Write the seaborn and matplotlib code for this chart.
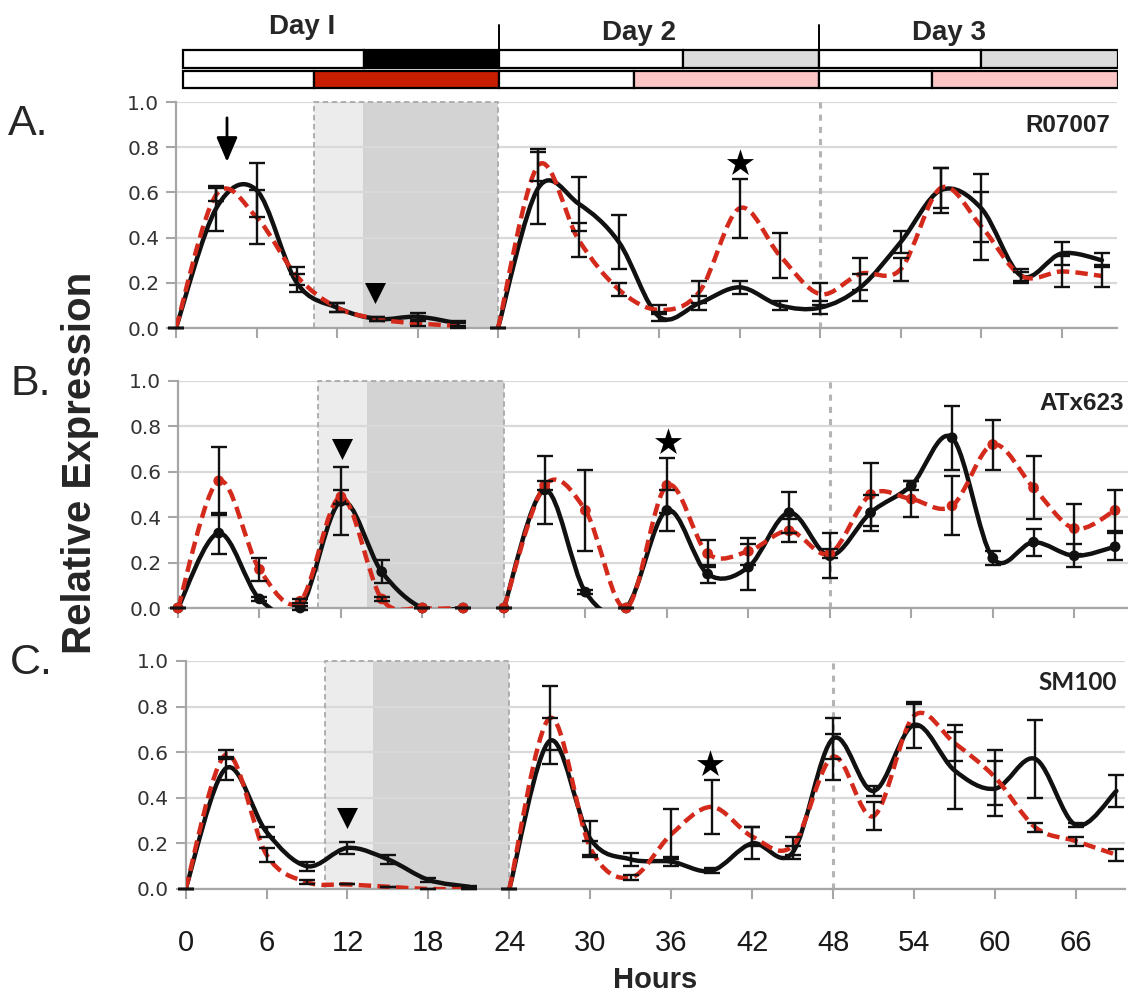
import numpy as np
import matplotlib
matplotlib.use("Agg")
import matplotlib.pyplot as plt
from matplotlib.path import Path
from matplotlib.patches import PathPatch, Rectangle
from matplotlib import font_manager
import seaborn as sns

# ---------------------------------------------------------------- data
hours = [0, 3, 6, 9, 12, 15, 18, 21,
         24, 27, 30, 33, 36, 39, 42, 45, 48, 51, 54, 57, 60, 63, 66, 69]
tick_hours = [0, 6, 12, 18, 24, 30, 36, 42, 48, 54, 60, 66]
y_ticks = [0.0, 0.2, 0.4, 0.6, 0.8, 1.0]

# R07007
r07007_black = [0, 0.53, 0.61, 0.20, 0.09, 0.04, 0.05, 0.02,
                0, 0.62, 0.55, 0.38, 0.05, 0.11, 0.18, 0.10, 0.09, 0.18, 0.38, 0.61, 0.53, 0.23, 0.33, 0.30]
r07007_black_err = [0, 0.10, 0.12, 0.04, 0.02, 0.01, 0.015, 0.01,
                    0, 0.16, 0.12, 0.12, 0.02, 0.03, 0.03, 0.02, 0.03, 0.06, 0.05, 0.10, 0.15, 0.03, 0.05, 0.03]
r07007_red = [0, 0.59, 0.49, 0.23, 0.09, 0.04, 0.02, 0.01,
              0, 0.72, 0.39, 0.17, 0.08, 0.16, 0.53, 0.32, 0.15, 0.24, 0.26, 0.62, 0.45, 0.23, 0.25, 0.23]
r07007_red_err = [0, 0.03, 0.12, 0.04, 0.02, 0.01, 0.01, 0.01,
                  0, 0.07, 0.075, 0.03, 0.02, 0.05, 0.13, 0.10, 0.05, 0.07, 0.05, 0.09, 0.15, 0.02, 0.07, 0.05]

# ATx623
atx623_black = [0, 0.33, 0.04, 0.0, 0.47, 0.16, 0.0, 0.0,
                0, 0.52, 0.07, 0.0, 0.43, 0.15, 0.18, 0.42, 0.23, 0.42, 0.54, 0.75, 0.22, 0.29, 0.23, 0.27]
atx623_black_err = [0, 0.09, 0.01, 0.01, 0.15, 0.05, 0, 0,
                    0, 0.15, 0.01, 0.0, 0.09, 0.04, 0.10, 0.09, 0.10, 0.08, 0.02, 0.14, 0.03, 0.06, 0.05, 0.06]
atx623_red = [0, 0.56, 0.17, 0.03, 0.49, 0.04, 0.0, 0.0,
              0, 0.54, 0.43, 0.0, 0.54, 0.24, 0.25, 0.34, 0.24, 0.50, 0.48, 0.45, 0.72, 0.53, 0.35, 0.43]
atx623_red_err = [0, 0.15, 0.05, 0.01, 0.03, 0.01, 0, 0,
                  0, 0.02, 0.18, 0, 0.12, 0.06, 0.06, 0.05, 0.02, 0.14, 0.08, 0.13, 0.11, 0.14, 0.11, 0.09]

# SM100
sm100_black = [0, 0.53, 0.25, 0.10, 0.18, 0.13, 0.04, 0.01,
               0, 0.65, 0.22, 0.13, 0.12, 0.08, 0.20, 0.16, 0.66, 0.43, 0.72, 0.52, 0.44, 0.57, 0.28, 0.43]
sm100_black_err = [0, 0.05, 0.02, 0.02, 0.025, 0.02, 0.01, 0.005,
                   0, 0.10, 0.08, 0.03, 0.02, 0.01, 0.07, 0.03, 0.09, 0.02, 0.10, 0.17, 0.12, 0.17, 0.01, 0.07]
sm100_red = [0, 0.59, 0.15, 0.03, 0.02, 0.01, 0.0, 0.0,
             0, 0.75, 0.18, 0.05, 0.24, 0.36, 0.23, 0.19, 0.58, 0.32, 0.76, 0.64, 0.49, 0.27, 0.21, 0.15]
sm100_red_err = [0, 0.02, 0.03, 0.01, 0, 0, 0, 0,
                 0, 0.14, 0.03, 0.01, 0.11, 0.12, 0.04, 0.04, 0.10, 0.06, 0.05, 0.08, 0.12, 0.02, 0.02, 0.025]

panel_names = ["R07007", "ATx623", "SM100"]
panel_letters = ["A.", "B.", "C."]

# light schedule bars (hours)
day_edges = [0.55, 24.1, 47.9, 70.2]
upper_dark_start = [14.0, 37.8, 60.0]
lower_dark_start = [10.3, 34.1, 56.3]
day_labels = ["Day I", "Day 2", "Day 3"]

# shaded night window on day 1 and the day-3 boundary
shade_edges = [10.3, 13.9, 24.0]
boundary_hour = 48

# annotation marks (hour, value) per panel
triangle_marks = [(14.8, 0.155), (12.1, 0.70), (12.0, 0.31)]
star_marks = [(42.0, 0.73), (36.1, 0.73), (38.9, 0.55)]
arrow_mark = (3.8, 0.93, 0.735)

# ---------------------------------------------------------------- style
W, H = 1128, 1002
sns.set_theme(style="white")
names = {f.name for f in font_manager.fontManager.ttflist}
narrow = "Liberation Sans Narrow" if "Liberation Sans Narrow" in names else "Liberation Sans"
plt.rcParams["font.family"] = ["Liberation Sans", "DejaVu Sans"]

BLACK = "#111111"
RED = "#d42a1c"
GRID = "#d9d9d9"
SPINE = "#a6a6a6"


def px_rect(left, top, width, height):
    return [left / W, 1 - (top + height) / H, width / W, height / H]


def smooth_path(x, y):
    """Cubic Bezier path through the points (Catmull-Rom style tangents)."""
    x = np.asarray(x, float)
    y = np.asarray(y, float)
    n = len(x)
    verts = [(x[0], y[0])]
    codes = [Path.MOVETO]
    for i in range(n - 1):
        a = i - 1 if i > 0 else i
        d = i + 2 if i + 2 < n else i + 1
        c1 = (x[i] + (x[i + 1] - x[a]) / 6, y[i] + (y[i + 1] - y[a]) / 6)
        c2 = (x[i + 1] - (x[d] - x[i]) / 6, y[i + 1] - (y[d] - y[i]) / 6)
        verts += [c1, c2, (x[i + 1], y[i + 1])]
        codes += [Path.CURVE4] * 3
    return Path(verts, codes)


fig = plt.figure(figsize=(W / 100, H / 100), dpi=100)

# ---------------------------------------------------------------- schedule bar
bar_left, bar_scale = 176, 13.42
ax_bar = fig.add_axes(px_rect(bar_left, 10, 942, 82))
ax_bar.set_xlim(0, 942 / bar_scale)
ax_bar.set_ylim(92, 10)
ax_bar.axis("off")
upper_colors = ["black", "#dcdcdc", "#dcdcdc"]
lower_colors = ["#c81e00", "#fcc6c6", "#fcc6c6"]
for d in range(3):
    s, e = day_edges[d], day_edges[d + 1]
    for (top, h, start, col) in [(50, 18, upper_dark_start[d], upper_colors[d]),
                                 (71, 17, lower_dark_start[d], lower_colors[d])]:
        ax_bar.add_patch(Rectangle((s, top), start - s, h, fc="white", ec="black", lw=1.6))
        ax_bar.add_patch(Rectangle((start, top), e - start, h, fc=col, ec="black", lw=1.6))
for edge in day_edges[1:3]:
    ax_bar.plot([edge, edge], [25, 50], color="black", lw=1.4)
for lbl, cx, cy in zip(day_labels, [9.4, 34.5, 57.6], [27, 33, 33]):
    ax_bar.text(cx, cy, lbl, ha="center", va="center", fontsize=20, fontweight="bold",
                family=narrow)

# ---------------------------------------------------------------- panels
panel_left = [176, 178, 185.6]
panel_scale = [13.42, 13.58, 13.49]
panel_top = [102, 381, 661]
panel_bottom = [328, 608, 889]
panel_xmax = [70.1, 70.5, 69.6]
name_pos = [(1110, 125), (1124, 403), (1117, 683)]
letter_pos = [(8, 124), (10, 384), (10, 663)]

series = [
    (r07007_black, r07007_black_err, r07007_red, r07007_red_err),
    (atx623_black, atx623_black_err, atx623_red, atx623_red_err),
    (sm100_black, sm100_black_err, sm100_red, sm100_red_err),
]

segments = [slice(0, 8), slice(8, 24)]

for p in range(3):
    left, sc, top, bot, xmax = panel_left[p], panel_scale[p], panel_top[p], panel_bottom[p], panel_xmax[p]
    ax = fig.add_axes(px_rect(left, top, xmax * sc, bot - top))
    ax.set_xlim(0, xmax)
    ax.set_ylim(0, 1.0)
    ax.set_axisbelow("line")

    # shaded night window with dashed outline
    ax.axvspan(shade_edges[0], shade_edges[1], color="#ececec", lw=0, zorder=0)
    ax.axvspan(shade_edges[1], shade_edges[2], color="#d3d3d3", lw=0, zorder=0)
    ax.plot([shade_edges[0], shade_edges[0], shade_edges[2], shade_edges[2]], [0, 1, 1, 0],
            color="#a9a9a9", lw=1.3, ls=(0, (3, 2)), zorder=1.6, clip_on=False)
    ax.axvline(boundary_hour, color="#b4b4b4", lw=2.2, ls=(0, (2.0, 2.0)), zorder=1.6)

    black, black_err, red, red_err = series[p]
    x = np.asarray(hours, float)
    for seg in segments:
        ax.add_patch(PathPatch(smooth_path(x[seg], np.asarray(black)[seg]), fill=False,
                               ec=BLACK, lw=3.2, zorder=3, capstyle="round", joinstyle="round"))
        ax.add_patch(PathPatch(smooth_path(x[seg], np.asarray(red)[seg]), fill=False,
                               ec=RED, lw=3.2, ls=(0, (2.8, 1.4)), zorder=4,
                               capstyle="butt", joinstyle="round"))

    if p == 1:
        sns.scatterplot(x=hours, y=black, ax=ax, color=BLACK, s=60, edgecolor="none",
                        zorder=5, clip_on=False, legend=False)
        sns.scatterplot(x=hours, y=red, ax=ax, color=RED, s=60, edgecolor="none",
                        zorder=6, clip_on=False, legend=False)

    for vals, errs in [(black, black_err), (red, red_err)]:
        eb = ax.errorbar(hours, vals, yerr=errs, fmt="none", ecolor=BLACK, elinewidth=1.7,
                         capsize=5.5, capthick=1.7, zorder=7)
        for artist in eb.lines[1] + eb.lines[2]:
            artist.set_clip_on(False)

    # annotation marks
    tx, ty = triangle_marks[p]
    ax.scatter([tx], [ty], marker="v", s=230, color="black", zorder=8, linewidths=0)
    sx, sy = star_marks[p]
    ax.scatter([sx], [sy], marker="*", s=420, color="black", zorder=8, linewidths=0)
    if p == 0:
        ax_x, y0, y1 = arrow_mark
        ax.annotate("", xy=(ax_x, y1), xytext=(ax_x, y0),
                    arrowprops=dict(arrowstyle="-|>,head_length=0.75,head_width=0.32",
                                    color="black", lw=2.0, mutation_scale=20,
                                    shrinkA=0, shrinkB=0), zorder=8)

    # axes styling
    for side in ["top", "right"]:
        ax.spines[side].set_visible(False)
    for side in ["left", "bottom"]:
        ax.spines[side].set_color(SPINE)
        ax.spines[side].set_linewidth(1.6)
        ax.spines[side].set_zorder(2.5)
    ax.yaxis.grid(True, color=GRID, lw=1.6)
    ax.xaxis.grid(False)
    ax.set_yticks(y_ticks)
    ax.set_yticklabels([f"{v:.1f}" for v in y_ticks], fontsize=14.5, family="DejaVu Sans",
                       color="#333333")
    ax.set_xticks(tick_hours)
    ax.tick_params(axis="both", which="major", direction="out", length=7, width=1.5,
                   color=SPINE, left=True, bottom=True)
    ax.tick_params(axis="y", pad=5)
    if p == 2:
        ax.set_xticklabels([str(t) for t in tick_hours], fontsize=21, family=narrow, color="#1a1a1a")
        ax.tick_params(axis="x", pad=22)
        ax.set_xlabel("Hours", fontsize=21, fontweight="bold", family=narrow, labelpad=6)
    else:
        ax.set_xticklabels([])

    nx, ny = name_pos[p]
    fig.text(nx / W, 1 - ny / H, panel_names[p], ha="right", va="center", fontsize=17.5,
             fontweight="bold", color="#222222",
             family=["Lato", "Liberation Sans"] if p == 2 else "Liberation Sans")
    lx, ly = letter_pos[p]
    fig.text(lx / W, 1 - ly / H, panel_letters[p], ha="left", va="center", fontsize=31)

fig.text(80 / W, 1 - 463 / H, "Relative Expression", rotation=90, ha="center", va="center",
         fontsize=29, fontweight="bold", family=narrow)

fig.savefig("out.png", dpi=100)
